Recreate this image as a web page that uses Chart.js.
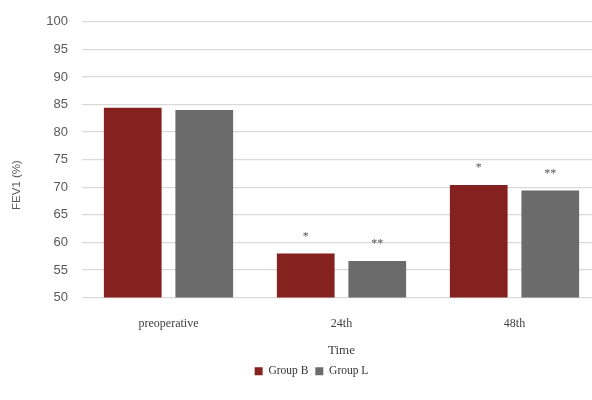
<!DOCTYPE html>
<html>
<head>
<meta charset="utf-8">
<script src="https://cdn.jsdelivr.net/npm/chart.js@4"></script>
<style>
html,body{margin:0;padding:0;background:#fff;overflow:hidden;}
#wrap{width:601px;height:400px;position:relative;}
</style>
</head>
<body>
<div id="wrap"><canvas id="c" width="601" height="400"></canvas></div>
<script>
const categories = ["preoperative", "24th", "48th"];
const groupB = [84.4, 58.0, 70.4];
const groupL = [84.0, 56.6, 69.4];
const marksB = ["", "*", "*"];
const marksL = ["", "**", "**"];
const yTitle = "FEV1 (%)";
const xTitle = "Time";

const starPlugin = {
  id: 'stars',
  afterDatasetsDraw(chart) {
    const ctx = chart.ctx;
    const marks = [marksB, marksL];
    ctx.save();
    ctx.fillStyle = '#555';
    ctx.font = '12px "Liberation Serif"';
    ctx.textAlign = 'center';
    ctx.textBaseline = 'middle';
    chart.data.datasets.forEach((ds, i) => {
      const meta = chart.getDatasetMeta(i);
      meta.data.forEach((bar, j) => {
        const t = marks[i][j];
        if (t) ctx.fillText(t, bar.x, bar.y - 17);
      });
    });
    // y axis title
    ctx.translate(17, 185);
    ctx.rotate(-Math.PI / 2);
    ctx.fillStyle = '#595959';
    ctx.font = '11.5px "Liberation Sans"';
    ctx.fillText(yTitle, 0, 0);
    ctx.restore();
  }
};

new Chart(document.getElementById('c'), {
  type: 'bar',
  data: {
    labels: categories,
    datasets: [
      { label: 'Group B', data: groupB, backgroundColor: '#85211F',
        barPercentage: 0.807, categoryPercentage: 0.827 },
      { label: 'Group L', data: groupL, backgroundColor: '#6B6B6B',
        barPercentage: 0.807, categoryPercentage: 0.827 }
    ]
  },
  options: {
    responsive: false,
    animation: false,
    layout: { padding: { top: 14, left: 22, right: 0, bottom: 13 } },
    plugins: {
      legend: {
        position: 'bottom',
        labels: {
          boxWidth: 8, boxHeight: 8, padding: 7,
          color: '#333',
          font: { family: '"Liberation Serif"', size: 11.5 }
        }
      },
      tooltip: { enabled: false }
    },
    scales: {
      y: {
        min: 50, max: 100,
        ticks: { stepSize: 5, color: '#595959', padding: 14,
          font: { family: '"Liberation Sans"', size: 13 } },
        grid: { color: '#d9d9d9', lineWidth: 1.3, drawTicks: false },
        border: { display: false },
        afterFit(s) { s.width = 60; }
      },
      x: {
        ticks: { color: '#404040', padding: 19,
          font: { family: '"Liberation Serif"', size: 12 } },
        grid: { display: false, drawTicks: false },
        border: { display: false },
        title: { display: true, text: xTitle, color: '#404040',
          padding: { top: 4, bottom: 0 },
          font: { family: '"Liberation Serif"', size: 13 } },
        afterFit(s) { s.height = 61; }
      }
    }
  },
  plugins: [starPlugin]
});
</script>
</body>
</html>
